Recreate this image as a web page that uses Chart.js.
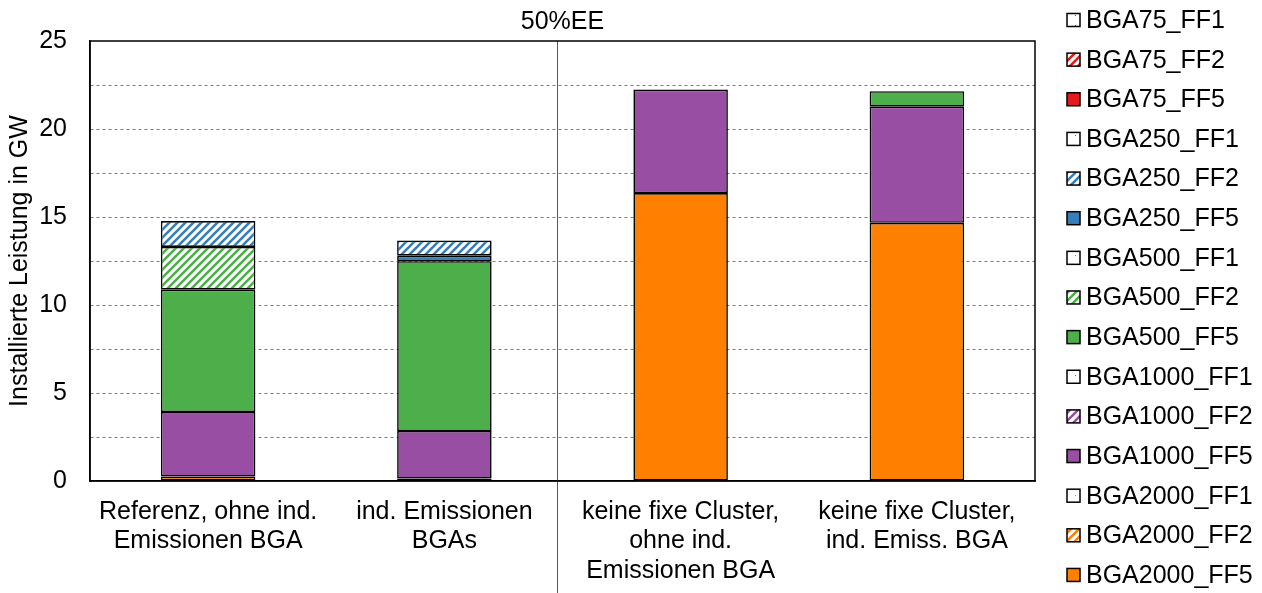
<!DOCTYPE html>
<html>
<head>
<meta charset="utf-8">
<script src="https://cdn.jsdelivr.net/npm/chart.js@4.4.1/dist/chart.umd.min.js"></script>
<style>
  html, body { margin: 0; padding: 0; background: #fff; }
</style>
</head>
<body>
<canvas id="chart" width="1262" height="593"></canvas>
<script>
var categories = [
	['Referenz, ohne ind.', 'Emissionen BGA'],
	['ind. Emissionen', 'BGAs'],
	['keine fixe Cluster,', 'ohne ind.', 'Emissionen BGA'],
	['keine fixe Cluster,', 'ind. Emiss. BGA']
];
var chartTitle = '50%EE';
var yTitle = 'Installierte Leistung in GW';

// values in GW, stacked from the bottom up
var bga2000_ff5 = [0.25, 0.14, 16.36, 14.67];
var bga2000_ff2 = [0, 0, 0, 0];
var bga2000_ff1 = [0, 0, 0, 0];
var bga1000_ff5 = [3.67, 2.70, 5.88, 6.60];
var bga1000_ff2 = [0, 0, 0, 0];
var bga1000_ff1 = [0, 0, 0, 0];
var bga500_ff5 = [6.95, 9.65, 0, 0.88];
var bga500_ff2 = [2.43, 0, 0, 0];
var bga500_ff1 = [0, 0, 0, 0];
var bga250_ff5 = [0, 0.31, 0, 0];
var bga250_ff2 = [1.47, 0.86, 0, 0];
var bga250_ff1 = [0, 0, 0, 0];
var bga75_ff5 = [0, 0, 0, 0];
var bga75_ff2 = [0, 0, 0, 0];
var bga75_ff1 = [0, 0, 0, 0];

var red = '#E41A1C', blue = '#377EB8', green = '#4DAF4A', purple = '#984EA3', orange = '#FF7F00';
var font = '"Liberation Sans", Arial, sans-serif';

function hatch(color) {
	var c = document.createElement('canvas');
	c.width = 8; c.height = 8;
	var g = c.getContext('2d');
	g.fillStyle = '#fff';
	g.fillRect(0, 0, 8, 8);
	g.strokeStyle = color;
	g.lineWidth = 2.6;
	g.beginPath();
	g.moveTo(-1, 9); g.lineTo(9, -1);
	g.moveTo(-3, 3); g.lineTo(3, -3);
	g.moveTo(5, 11); g.lineTo(11, 5);
	g.stroke();
	return g.createPattern(c, 'repeat');
}
function dots(color) {
	var c = document.createElement('canvas');
	c.width = 10; c.height = 10;
	var g = c.getContext('2d');
	g.fillStyle = '#fff';
	g.fillRect(0, 0, 10, 10);
	g.fillStyle = color;
	g.fillRect(5, 5, 1, 1);
	return g.createPattern(c, 'repeat');
}

// empty segments are left out so they do not add border lines
function series(label, values, fill) {
	return {
		label: label,
		data: values.map(function(v) { return v === 0 ? null : v; }),
		backgroundColor: fill,
		borderColor: '#000',
		borderWidth: 1.6,
		borderSkipped: false
	};
}

var data = {
	labels: categories,
	datasets: [
		series('BGA2000_FF5', bga2000_ff5, orange),
		series('BGA2000_FF2', bga2000_ff2, hatch(orange)),
		series('BGA2000_FF1', bga2000_ff1, dots(orange)),
		series('BGA1000_FF5', bga1000_ff5, purple),
		series('BGA1000_FF2', bga1000_ff2, hatch(purple)),
		series('BGA1000_FF1', bga1000_ff1, dots(purple)),
		series('BGA500_FF5', bga500_ff5, green),
		series('BGA500_FF2', bga500_ff2, hatch(green)),
		series('BGA500_FF1', bga500_ff1, dots(green)),
		series('BGA250_FF5', bga250_ff5, blue),
		series('BGA250_FF2', bga250_ff2, hatch(blue)),
		series('BGA250_FF1', bga250_ff1, dots(blue)),
		series('BGA75_FF5', bga75_ff5, red),
		series('BGA75_FF2', bga75_ff2, hatch(red)),
		series('BGA75_FF1', bga75_ff1, dots(red))
	]
};

// plot frame, group separator and the legend on the right
var decorations = {
	id: 'decorations',
	afterDraw: function(chart) {
		var ctx = chart.ctx, a = chart.chartArea;
		ctx.save();
		var sx = Math.round(chart.scales.x.getPixelForValue(1.475)) + 0.5;
		ctx.strokeStyle = '#595959';
		ctx.lineWidth = 1;
		ctx.beginPath();
		ctx.moveTo(sx, a.top);
		ctx.lineTo(sx, chart.height);
		ctx.stroke();

		ctx.strokeStyle = '#000';
		ctx.lineWidth = 1.5;
		ctx.strokeRect(a.left, a.top, a.right - a.left, a.bottom - a.top);

		var ds = chart.data.datasets;
		var bx = a.right + 32;
		ctx.font = '25px ' + font;
		ctx.textBaseline = 'middle';
		ctx.textAlign = 'left';
		for (var i = 0; i < ds.length; i++) {
			var d = ds[ds.length - 1 - i];
			var y = 20 + i * 39.64;
			ctx.fillStyle = d.backgroundColor;
			ctx.fillRect(bx, y - 6.5, 13, 13);
			ctx.strokeStyle = '#000';
			ctx.lineWidth = 1.5;
			ctx.strokeRect(bx, y - 6.5, 13, 13);
			ctx.fillStyle = '#000';
			ctx.fillText(d.label, bx + 19, y + 1);
		}
		ctx.restore();
	}
};

var options = {
	responsive: false,
	animation: false,
	layout: { padding: { left: 0, right: 227, top: 0, bottom: 0 } },
	plugins: {
		legend: { display: false },
		tooltip: { enabled: false },
		title: {
			display: true,
			text: chartTitle,
			fullSize: false,
			color: '#000',
			font: { family: font, size: 25, weight: 'normal', lineHeight: 1.2 },
			padding: { top: 7, bottom: 4 }
		}
	},
	scales: {
		x: {
			stacked: true,
			grid: { display: false, drawTicks: false },
			border: { display: true, color: '#000', width: 1.5 },
			ticks: {
				color: '#000',
				padding: 16,
				maxRotation: 0,
				autoSkip: false,
				font: { family: font, size: 25, lineHeight: 1.18 }
			},
			afterFit: function(s) { s.height = 112; }
		},
		y: {
			stacked: true,
			min: 0,
			max: 25,
			grid: {
				drawTicks: false,
				color: function(c) {
					return (c.tick && (c.tick.value === 0 || c.tick.value === 25)) ? 'rgba(0,0,0,0)' : '#7f7f7f';
				},
				lineWidth: 1
			},
			border: { display: true, color: '#000', width: 1.5, dash: [3, 3] },
			ticks: {
				stepSize: 2.5,
				color: '#000',
				padding: 23,
				autoSkip: false,
				font: { family: font, size: 25 },
				callback: function(v) { return v % 5 === 0 ? v : ''; }
			},
			title: {
				display: true,
				text: yTitle,
				color: '#000',
				font: { family: font, size: 25, lineHeight: 1.2 },
				padding: { top: 5, bottom: 0 }
			},
			afterFit: function(s) { s.width = 90; }
		}
	},
	datasets: {
		bar: { categoryPercentage: 1, barPercentage: 0.4 }
	}
};

var chartInstance = new Chart(document.getElementById('chart').getContext('2d'), {
	type: 'bar',
	data: data,
	options: options,
	plugins: [decorations]
});
</script>
</body>
</html>
